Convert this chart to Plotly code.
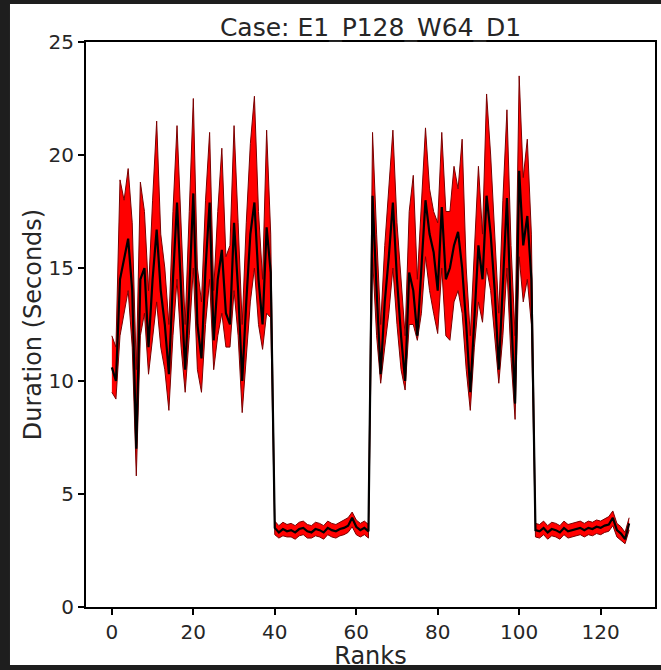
import plotly.graph_objects as go

# rank ids 0..127
ranks = list(range(128))

# mean duration per rank (black line)
mean_dur = [
    10.6, 10.0, 14.5, 15.4, 16.3, 14.0, 7.0, 14.5, 15.0, 11.5,
    14.5, 16.7, 14.0, 12.5, 10.3, 14.5, 17.9, 14.0, 10.5, 14.0,
    18.3, 12.5, 11.0, 15.0, 17.9, 11.8, 14.5, 15.8, 13.0, 12.5,
    17.0, 14.0, 10.0, 13.5, 16.5, 17.9, 14.5, 12.5, 16.8, 14.8,
    3.5, 3.3, 3.45, 3.35, 3.4, 3.3, 3.45, 3.5, 3.35, 3.3,
    3.45, 3.4, 3.3, 3.5, 3.4, 3.35, 3.45, 3.5, 3.6, 3.95,
    3.55, 3.4, 3.5, 3.35,
    18.2, 14.0, 10.3, 13.5, 15.5, 17.9, 14.5, 12.0, 10.0, 14.8,
    14.0, 12.0, 15.0, 18.0, 16.5, 15.7, 14.0, 17.7, 14.5, 15.0,
    16.0, 16.6, 15.0, 12.5, 9.5, 13.0, 16.0, 14.5, 18.2, 16.5,
    14.0, 10.5, 14.5, 18.1, 13.0, 9.0, 19.3, 16.0, 17.3, 14.5,
    3.4, 3.35, 3.5, 3.3, 3.45, 3.4, 3.3, 3.5, 3.35, 3.4,
    3.45, 3.5, 3.4, 3.5, 3.45, 3.55, 3.5, 3.6, 3.65, 3.95,
    3.4, 3.25, 3.0, 3.7,
]

# lower edge of the red band
lower_dur = [
    9.5, 9.2, 12.0, 13.0, 14.0, 11.5, 5.8, 12.0, 13.0, 10.3,
    12.0, 13.5, 11.5, 10.5, 8.7, 12.0, 14.5, 11.5, 9.5, 12.0,
    15.0, 10.5, 9.5, 12.5, 14.5, 10.5, 12.0, 13.0, 11.5, 11.5,
    14.0, 12.0, 8.6, 11.0, 13.5, 15.0, 12.5, 11.4, 13.0, 12.8,
    3.2, 3.05, 3.15, 3.1, 3.1, 3.0, 3.15, 3.2, 3.05, 3.05,
    3.15, 3.1, 3.0, 3.2, 3.1, 3.05, 3.15, 3.2, 3.3, 3.55,
    3.2, 3.1, 3.2, 3.05,
    15.5, 12.0, 9.9, 11.5, 13.0, 15.0, 12.5, 10.5, 9.6, 12.5,
    12.5, 11.8, 13.0, 15.5, 14.0, 13.0, 12.1, 15.0, 12.0, 11.8,
    13.5, 14.0, 13.0, 10.5, 8.7, 11.5, 13.5, 12.6, 15.0, 14.0,
    12.0, 9.9, 12.0, 15.0, 11.0, 8.3, 15.5, 13.5, 14.5, 12.5,
    3.1, 3.05, 3.2, 3.0, 3.15, 3.1, 3.0, 3.2, 3.05, 3.1,
    3.15, 3.2, 3.1, 3.2, 3.15, 3.25, 3.2, 3.3, 3.35, 3.6,
    3.1, 2.95, 2.8, 3.4,
]

# upper edge of the red band
upper_dur = [
    12.0, 11.5, 18.9, 18.0, 19.4, 17.0, 10.5, 18.8, 17.5, 14.0,
    18.0, 21.5, 16.5, 15.0, 12.5, 17.5, 21.3, 16.5, 12.5, 17.5,
    22.5, 15.0, 13.5, 18.0, 21.0, 14.0, 17.5, 20.3, 15.5, 16.0,
    21.3, 17.0, 12.5, 17.0, 20.5, 22.6, 17.5, 14.5, 21.1, 16.5,
    3.8, 3.6, 3.75, 3.65, 3.7, 3.6, 3.75, 3.8, 3.65, 3.6,
    3.75, 3.7, 3.6, 3.8, 3.7, 3.65, 3.75, 3.85, 3.95, 4.2,
    3.85, 3.7, 3.8, 3.65,
    21.0, 16.5, 12.5, 16.0, 18.5, 21.1, 17.0, 14.5, 12.0, 17.5,
    19.1, 14.5, 18.0, 21.2, 18.5, 17.5, 17.0, 21.0, 17.5, 17.5,
    19.5, 18.5, 20.7, 15.0, 12.0, 16.0, 19.5, 16.5, 22.7, 20.0,
    16.5, 13.0, 18.0, 22.0, 16.0, 12.0, 23.5, 19.0, 20.7, 16.5,
    3.7, 3.65, 3.8, 3.6, 3.75, 3.7, 3.6, 3.8, 3.65, 3.7,
    3.75, 3.8, 3.7, 3.8, 3.75, 3.85, 3.8, 3.9, 4.0, 4.25,
    3.7, 3.55, 3.3, 3.95,
]

x_ticks = [0, 20, 40, 60, 80, 100, 120]
y_ticks = [0, 5, 10, 15, 20, 25]

FONT = "DejaVu Sans"
TXT = "#262626"
BORDER = "#1e1e1e"

fig = go.Figure()

fig.add_trace(go.Scatter(x=ranks, y=lower_dur, mode="lines",
                         line=dict(color="#7a0000", width=1),
                         showlegend=False, hoverinfo="skip"))
fig.add_trace(go.Scatter(x=ranks, y=upper_dur, mode="lines",
                         line=dict(color="#7a0000", width=1),
                         fill="tonexty", fillcolor="#ff0000",
                         showlegend=False, hoverinfo="skip"))
fig.add_trace(go.Scatter(x=ranks, y=mean_dur, mode="lines",
                         line=dict(color="black", width=2.2),
                         showlegend=False))

# dark screenshot border on the left, top and bottom edges
for x0, x1, y0, y1 in [(-0.2, -0.1336, -0.2, 1.2),
                       (-0.2, 1.2, 1.0673, 1.2),
                       (-0.2, 1.2, -0.2, -0.1027)]:
    fig.add_shape(type="rect", xref="paper", yref="paper",
                  x0=x0, x1=x1, y0=y0, y1=y1,
                  fillcolor=BORDER, line=dict(width=0), layer="below")

axis_common = dict(showline=True, mirror=True, linecolor="black", linewidth=2,
                   ticks="outside", ticklen=6, tickwidth=1.5, tickcolor="black",
                   showgrid=False, zeroline=False, automargin=False,
                   tickfont=dict(family=FONT, size=20, color=TXT))

fig.update_layout(
    width=661, height=670,
    margin=dict(l=86, r=6, t=42, b=63),
    paper_bgcolor="white", plot_bgcolor="white",
    font=dict(family=FONT, color=TXT),
    title=dict(text="Case: E1_P128_W64_D1", x=0.5, xref="paper", xanchor="center",
               y=1, yref="paper", yanchor="bottom", pad=dict(b=6),
               font=dict(family=FONT, size=25, color=TXT)),
    xaxis=dict(range=[-6.35, 133.35], tickvals=x_ticks,
               title=dict(text="Ranks", standoff=0,
                          font=dict(family=FONT, size=24, color=TXT)),
               **axis_common),
    yaxis=dict(range=[0, 25], tickvals=y_ticks,
               title=dict(text="Duration (Seconds)", standoff=0,
                          font=dict(family=FONT, size=24, color=TXT)),
               **axis_common),
)

# page margin off so the figure sits at the window's top-left corner
fig.write_html("out.html", config={"displayModeBar": False},
               post_script="document.body.style.margin='0';"
                           "document.body.style.overflow='hidden';")
